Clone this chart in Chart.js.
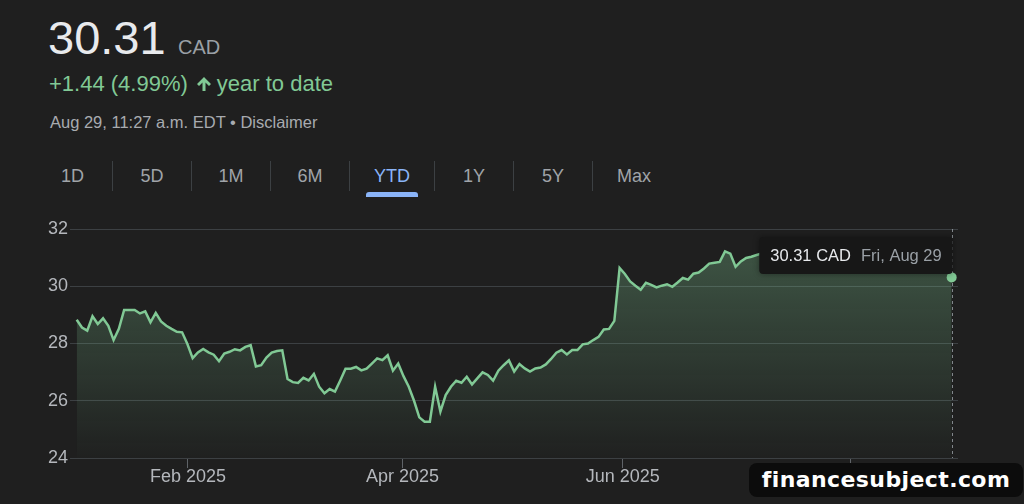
<!DOCTYPE html>
<html>
<head>
<meta charset="utf-8">
<script src="https://cdn.jsdelivr.net/npm/chart.js@4.4.1/dist/chart.umd.min.js"></script>
<style>
  html, body { margin: 0; padding: 0; }
  body {
    width: 1024px; height: 504px; overflow: hidden; position: relative;
    background: #1f1f1f; color: #e8eaed;
    font-family: "Liberation Sans", Arial, sans-serif;
  }
  .abs { position: absolute; line-height: 1; white-space: nowrap; }
  .price { left: 48px; top: 14px; font-size: 47px; color: #e8eaed; }
  .cur { left: 178px; top: 37px; font-size: 20px; color: #9aa0a6; }
  .change { left: 49px; top: 73px; font-size: 22px; color: #81c995; display: flex; align-items: center; }
  .change svg { margin: 0 5px 0 8px; }
  .stamp { left: 50px; top: 114px; font-size: 16.5px; color: #a8abb0; }
  .tabs { position: absolute; left: 33px; top: 161px; height: 30px; display: flex; font-size: 18px; color: #a0a4a9; }
  .tab { box-sizing: border-box; min-width: 79px; padding: 0 24px; line-height: 30px; text-align: center; border-left: 1px solid #3c4043; position: relative; }
  .tab:first-child { border-left: none; }
  .tab.on { color: #8ab4f8; }
  .tab.on::after { content: ""; position: absolute; left: 50%; margin-left: -26px; width: 52px; height: 5px; bottom: -6px; background: #8ab4f8; border-radius: 3px 3px 0 0; }
  #chart { position: absolute; left: 0; top: 210px; }
  .mark {
    position: absolute; left: 749px; top: 463px; width: 274px; height: 34px;
    background: #0c0c0c; border-radius: 8px; color: #fff;
    font-family: "DejaVu Sans", sans-serif; font-weight: bold; font-size: 22px;
    letter-spacing: 0.4px; line-height: 34px; text-align: center;
  }
</style>
</head>
<body>
<div class="abs price">30.31</div>
<div class="abs cur">CAD</div>
<div class="abs change"><span>+1.44 (4.99%)</span><svg width="16" height="16" viewBox="0 0 16 16"><path d="M8 1 L15 8 L13 10 L9.5 6.5 L9.5 15 L6.5 15 L6.5 6.5 L3 10 L1 8 Z" fill="#81c995"/></svg><span>year to date</span></div>
<div class="abs stamp">Aug 29, 11:27 a.m. EDT • Disclaimer</div>
<div class="tabs">
  <div class="tab">1D</div>
  <div class="tab">5D</div>
  <div class="tab">1M</div>
  <div class="tab">6M</div>
  <div class="tab on">YTD</div>
  <div class="tab">1Y</div>
  <div class="tab">5Y</div>
  <div class="tab">Max</div>
</div>
<canvas id="chart" width="1024" height="294"></canvas>
<div class="mark">financesubject.com</div>

<script>
// ---- data (one value per trading day, Jan 2 -> Aug 29 2025) ----
const prices = [
  28.83, 28.56, 28.45, 28.95, 28.68, 28.88, 28.62, 28.12, 28.51, 29.17,
  29.17, 29.17, 29.05, 29.12, 28.74, 29.07, 28.77, 28.62, 28.51, 28.41,
  28.39, 27.98, 27.49, 27.69, 27.81, 27.69, 27.61, 27.38, 27.65, 27.71,
  27.80, 27.76, 27.88, 27.94, 27.20, 27.24, 27.51, 27.68, 27.74, 27.76,
  26.76, 26.65, 26.62, 26.80, 26.71, 26.94, 26.49, 26.26, 26.41, 26.32,
  26.71, 27.12, 27.12, 27.18, 27.06, 27.12, 27.30, 27.48, 27.42, 27.59,
  27.05, 27.30, 26.86, 26.49, 26.00, 25.42, 25.27, 25.27, 26.49, 25.62,
  26.20, 26.49, 26.70, 26.63, 26.84, 26.57, 26.78, 26.99, 26.90, 26.70,
  27.05, 27.24, 27.41, 27.02, 27.28, 27.13, 27.02, 27.13, 27.16, 27.27,
  27.46, 27.68, 27.77, 27.62, 27.77, 27.77, 27.97, 28.00, 28.12, 28.23,
  28.49, 28.51, 28.79, 30.64, 30.43, 30.17, 30.02, 29.88, 30.12, 30.05,
  29.96, 30.02, 30.07, 29.98, 30.13, 30.29, 30.23, 30.44, 30.48, 30.62,
  30.79, 30.82, 30.85, 31.22, 31.14, 30.68, 30.87, 30.99, 31.03, 31.09,
  31.15, 31.22, 31.10, 31.28, 31.35, 31.30, 31.42, 31.38, 31.25, 31.18,
  31.30, 31.45, 31.50, 31.40, 31.33, 31.45, 31.55, 31.48, 31.38, 31.26,
  31.35, 31.42, 31.30, 31.18, 31.05, 31.12, 31.20, 31.08, 30.95, 31.02,
  30.90, 30.82, 30.75, 30.70, 30.62, 30.55, 30.31
];
const tickLabels = ["Feb 2025", "Apr 2025", "Jun 2025", "Aug 2025"];
const tickIndex = [21.1, 61.8, 103.6, 146.8];
const yTicks = [24, 26, 28, 30, 32];
const currency = "CAD";
const lastDate = "Fri, Aug 29";

const GREEN = "#81c995";
const last = prices.length - 1;

Chart.defaults.font.family = "'Liberation Sans', Arial, sans-serif";

// dashed line at the hovered (last) point
const crosshair = {
  id: "crosshair",
  beforeDatasetsDraw(chart) {
    const pt = chart.getDatasetMeta(0).data[last];
    const a = chart.chartArea;
    const ctx = chart.ctx;
    ctx.save();
    ctx.strokeStyle = "rgba(154,160,166,0.8)";
    ctx.lineWidth = 1;
    ctx.setLineDash([3, 3]);
    ctx.beginPath();
    ctx.moveTo(Math.round(pt.x) + 0.5, a.top);
    ctx.lineTo(Math.round(pt.x) + 0.5, a.bottom);
    ctx.stroke();
    ctx.restore();
  }
};

// fixed tooltip box at the top of the plot
const topTip = {
  id: "topTip",
  afterDraw(chart) {
    const pt = chart.getDatasetMeta(0).data[last];
    const a = chart.chartArea;
    const ctx = chart.ctx;
    const t1 = prices[last].toFixed(2) + " " + currency;
    const t2 = lastDate;
    ctx.save();
    ctx.font = "16.5px 'Liberation Sans', Arial, sans-serif";
    const w1 = ctx.measureText(t1).width;
    const w2 = ctx.measureText(t2).width;
    const w = 11 + w1 + 10 + w2 + 11;
    const h = 37;
    const x = pt.x + 1 - w;
    const y = a.top + 8;
    ctx.shadowColor = "rgba(0,0,0,0.4)";
    ctx.shadowBlur = 6;
    ctx.fillStyle = "#171717";
    ctx.beginPath();
    ctx.roundRect(x, y, w, h, 4);
    ctx.fill();
    ctx.shadowBlur = 0;
    ctx.textBaseline = "middle";
    ctx.fillStyle = "#e8eaed";
    ctx.fillText(t1, x + 11, y + h / 2 + 0.5);
    ctx.fillStyle = "#9aa0a6";
    ctx.fillText(t2, x + 11 + w1 + 10, y + h / 2 + 0.5);
    ctx.restore();
  }
};

new Chart(document.getElementById("chart"), {
  type: "line",
  data: {
    datasets: [{
      data: prices.map((p, i) => ({ x: i, y: p })),
      borderColor: GREEN,
      borderWidth: 2.5,
      tension: 0,
      fill: "start",
      backgroundColor: (c) => {
        const a = c.chart.chartArea;
        if (!a) return "transparent";
        const g = c.chart.ctx.createLinearGradient(0, a.top, 0, a.bottom);
        g.addColorStop(0, "rgba(129,201,149,0.34)");
        g.addColorStop(1, "rgba(129,201,149,0.01)");
        return g;
      },
      pointRadius: (c) => (c.dataIndex === last ? 5 : 0),
      pointBackgroundColor: GREEN,
      pointBorderWidth: 0
    }]
  },
  options: {
    responsive: false,
    animation: false,
    events: [],
    layout: { padding: { left: 48, right: 66, top: 19, bottom: 0 } },
    plugins: { legend: { display: false }, tooltip: { enabled: false } },
    scales: {
      x: {
        type: "linear",
        min: -1.27,
        max: 167.2,
        afterBuildTicks: (s) => { s.ticks = tickIndex.map(v => ({ value: v })); },
        afterFit: (s) => { s.height = 46; },
        ticks: {
          callback: (v, i) => tickLabels[i],
          color: "#b4b7bc",
          font: { size: 18 },
          padding: -2,
          maxRotation: 0,
          autoSkip: false
        },
        grid: { drawOnChartArea: false, drawTicks: true, tickLength: 10, color: "#5f6368" },
        border: { display: false }
      },
      y: {
        min: yTicks[0],
        max: yTicks[yTicks.length - 1],
        afterBuildTicks: (s) => { s.ticks = yTicks.map(v => ({ value: v })); },
        afterFit: (s) => { s.width = 22; },
        ticks: { crossAlign: "far", color: "#b4b7bc", font: { size: 18 }, padding: 0 },
        grid: { color: "#3c4043", drawTicks: false },
        border: { display: false }
      }
    }
  },
  plugins: [crosshair, topTip]
});
</script>
</body>
</html>
